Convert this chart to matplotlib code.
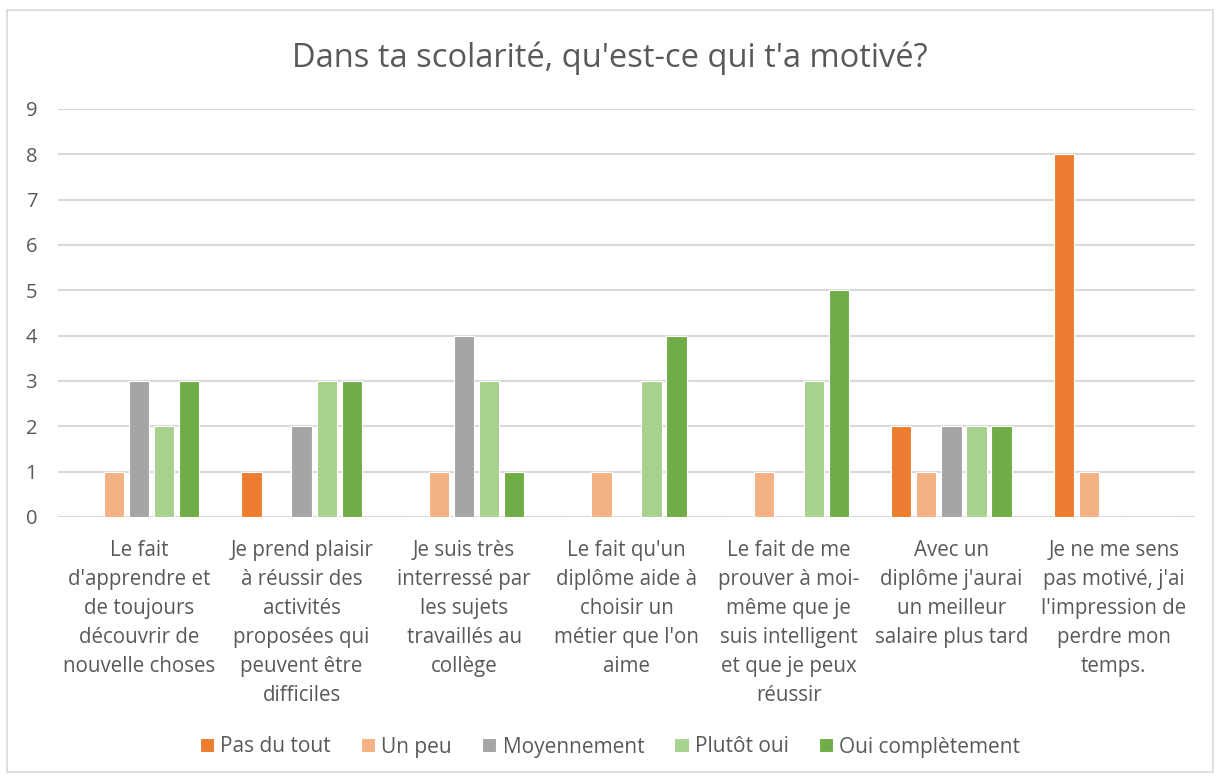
import matplotlib
matplotlib.use("Agg")
import matplotlib.pyplot as plt
import numpy as np
from matplotlib.patches import Rectangle

categories = [
    "Le fait\nd'apprendre et\nde toujours\ndécouvrir de\nnouvelle choses",
    "Je prend plaisir\nà réussir des\nactivités\nproposées qui\npeuvent être\ndifficiles",
    "Je suis très\ninterressé par\nles sujets\ntravaillés au\ncollège",
    "Le fait qu'un\ndiplôme aide à\nchoisir un\nmétier que l'on\naime",
    "Le fait de me\nprouver à moi-\nmême que je\nsuis intelligent\net que je peux\nréussir",
    "Avec un\ndiplôme j'aurai\nun meilleur\nsalaire plus tard",
    "Je ne me sens\npas motivé, j'ai\nl'impression de\nperdre mon\ntemps.",
]
series_names = ["Pas du tout", "Un peu", "Moyennement", "Plutôt oui", "Oui complètement"]
pas_du_tout = [0, 1, 0, 0, 0, 2, 8]
un_peu = [1, 0, 1, 1, 1, 1, 1]
moyennement = [3, 2, 4, 0, 0, 2, 0]
plutot_oui = [2, 3, 3, 3, 3, 2, 0]
oui_completement = [3, 3, 1, 4, 5, 2, 0]
yticks = [0, 1, 2, 3, 4, 5, 6, 7, 8, 9]
title = "Dans ta scolarité, qu'est-ce qui t'a motivé?"

colors = ["#ED7D31", "#F4B183", "#A5A5A5", "#A9D18E", "#70AD47"]
text_color = "#595959"
font = "Open Sans"

fig = plt.figure(figsize=(12.2, 7.78), dpi=100)
W, H = 1220, 778
ax = fig.add_axes([58 / W, 1 - 517 / H, (1195 - 58) / W, (517 - 109) / H])

data = [pas_du_tout, un_peu, moyennement, plutot_oui, oui_completement]
x = np.arange(len(categories))
slot = 0.154
bw = 0.125
for i, (name, vals, c) in enumerate(zip(series_names, data, colors)):
    ax.bar(x + (i - 2) * slot, vals, width=bw, color=c, edgecolor="white",
           linewidth=0.8, label=name, zorder=3)

ax.set_xlim(-0.5, len(categories) - 0.5)
ax.set_ylim(0, 9)
ax.set_yticks(yticks)
ax.set_yticklabels([str(t) for t in yticks], fontsize=14.5, color=text_color, family=font)
ax.tick_params(axis="y", length=0, pad=15)
ax.tick_params(axis="x", length=0, pad=16.5)
ax.set_xticks(x)
ax.set_xticklabels(categories, fontsize=14.8, color=text_color, family=font,
                   linespacing=1.5, va="top", ha="center")
ax.grid(axis="y", color="#D9D9D9", linewidth=1.5, zorder=0)
for s in ax.spines.values():
    s.set_visible(False)

fig.text(0.5, 1 - 58 / H, title, ha="center", va="center", fontsize=23.5,
         color=text_color, family=font)

leg = fig.legend(loc="center", bbox_to_anchor=(0.5, 1 - 747 / H), ncol=5,
                 frameon=False, prop={"family": font, "size": 15},
                 handlelength=0.68, handleheight=0.68, handletextpad=0.3,
                 columnspacing=1.45, labelcolor=text_color)

fig.patches.append(Rectangle((7 / W, 1 - 772 / H), (1213 - 7) / W, (772 - 10) / H,
                             transform=fig.transFigure, fill=False,
                             edgecolor="#D9D9D9", linewidth=1.2))

fig.savefig("out.png", dpi=100, facecolor="white")
